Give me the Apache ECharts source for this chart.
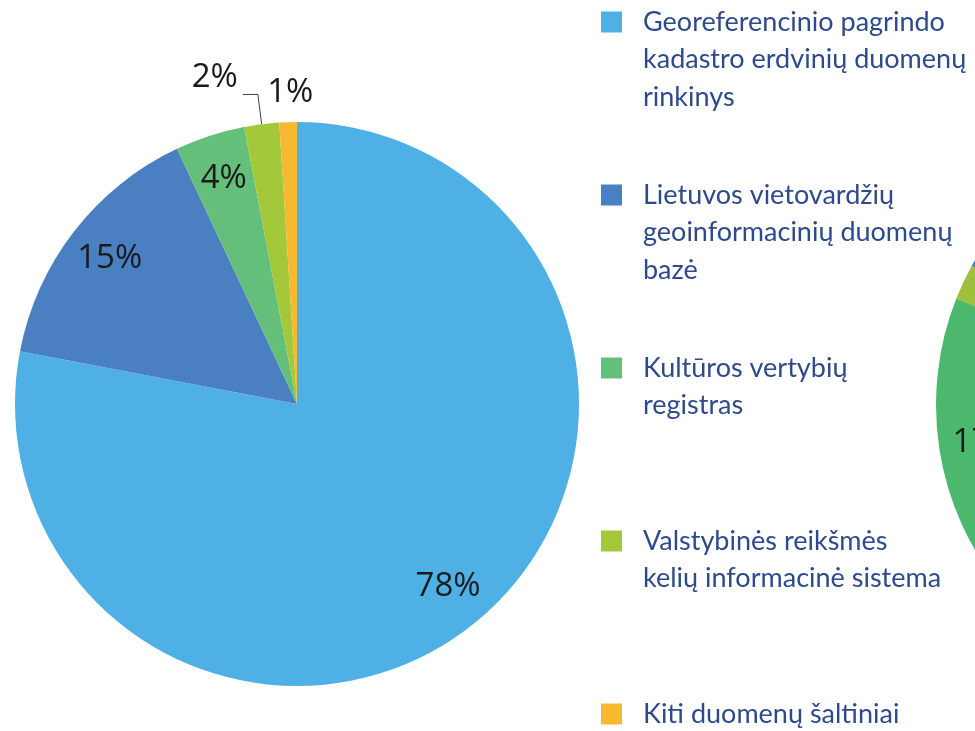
<!DOCTYPE html>
<html>
<head>
<meta charset="utf-8">
<title>Duomenų šaltiniai</title>
<script src="https://cdn.jsdelivr.net/npm/echarts@6/dist/echarts.min.js"></script>
<style>
html, body { margin: 0; padding: 0; background: #fff; }
#chart { width: 975px; height: 731px; }
</style>
</head>
<body>
<div id="chart"></div>
<script>
// kairioji diagrama
var categories = [
  'Georeferencinio pagrindo\nkadastro erdvinių duomenų\nrinkinys',
  'Lietuvos vietovardžių\ngeoinformacinių duomenų\nbazė',
  'Kultūros vertybių\nregistras',
  'Valstybinės reikšmės\nkelių informacinė sistema',
  'Kiti duomenų šaltiniai'
];
var shares = [78, 15, 4, 2, 1];

// dešinioji diagrama, matosi tik jos kairysis kraštas
var rightNames = ['d1', 'd2', 'd3', 'd4'];
var rightShares = [64, 17, 2, 17];

var colors = ['#4eb0e4', '#4a7fc2', '#64bf7b', '#a3c93a', '#f6b931'];
var rightColors = ['#4eb0e4', '#4bb86d', '#9fc03d', '#4a7fc2'];

var labelFont = { fontFamily: 'Open Sans', fontSize: 33, color: '#1a1a1a' };
var lineH = 37.5;

function pctLabel(p) {
  return p.value + '%';
}

// pati skritulinė diagrama
function pieSeries(center, r, names, values, cols, outsideLabels) {
  return {
    type: 'pie',
    center: center,
    radius: r,
    startAngle: 90,
    clockwise: true,
    silent: true,
    avoidLabelOverlap: false,
    itemStyle: { borderWidth: 0 },
    label: Object.assign({ position: 'outside', formatter: pctLabel }, labelFont),
    labelLine: { length: 30, length2: 15, lineStyle: { color: '#404040', width: 1 } },
    labelLayout: function (params) {
      if (!outsideLabels) return {};
      if (params.dataIndex === 4) return { align: 'left' };
      if (params.dataIndex === 3) return { verticalAlign: 'bottom' };
      return {};
    },
    data: values.map(function (v, i) {
      var small = outsideLabels && v < 3;
      return {
        name: names[i],
        value: v,
        itemStyle: { color: cols[i] },
        label: { show: small },
        labelLine: { show: small && v === 2 }
      };
    })
  };
}

// permatomas žiedas tik vidiniams užrašams (arčiau krašto)
function ringLabels(center, r, names, values) {
  return {
    type: 'pie',
    center: center,
    radius: [r * 0.66, r],
    startAngle: 90,
    clockwise: true,
    silent: true,
    avoidLabelOverlap: false,
    label: Object.assign({ position: 'inside', formatter: pctLabel }, labelFont),
    labelLine: { show: false },
    data: values.map(function (v, i) {
      return {
        name: names[i],
        value: v,
        itemStyle: { color: 'rgba(0,0,0,0)' },
        label: { show: v >= 3 }
      };
    })
  };
}

// kiekviena legendos eilutė atskirai, kad kvadratėlis būtų ties pirma teksto eilute
var legends = categories.map(function (name, i) {
  var n = name.split('\n').length;
  var c = 22 + 173 * i;
  return {
    left: 601,
    top: c - (2 * n - 1) * lineH / 2,
    padding: 0,
    orient: 'vertical',
    icon: 'rect',
    itemWidth: 21,
    itemHeight: 21,
    selectedMode: false,
    data: [{ name: name, itemStyle: { color: colors[i] } }],
    formatter: function (nm) {
      return new Array(n).join('\n') + nm;
    },
    textStyle: {
      fontFamily: 'Lato',
      fontSize: 27,
      color: '#2d4a8c',
      lineHeight: lineH,
      padding: [0, 0, 0, 16]
    }
  };
});

var myChart = echarts.init(document.getElementById('chart'));
myChart.setOption({
  backgroundColor: '#ffffff',
  animation: false,
  legend: legends,
  series: [
    pieSeries([297, 404], 282, categories, shares, colors, true),
    ringLabels([297, 404], 282, categories, shares),
    pieSeries([1225, 405], 289, rightNames, rightShares, rightColors, false),
    ringLabels([1225, 405], 289, rightNames, rightShares)
  ]
});
</script>
</body>
</html>
